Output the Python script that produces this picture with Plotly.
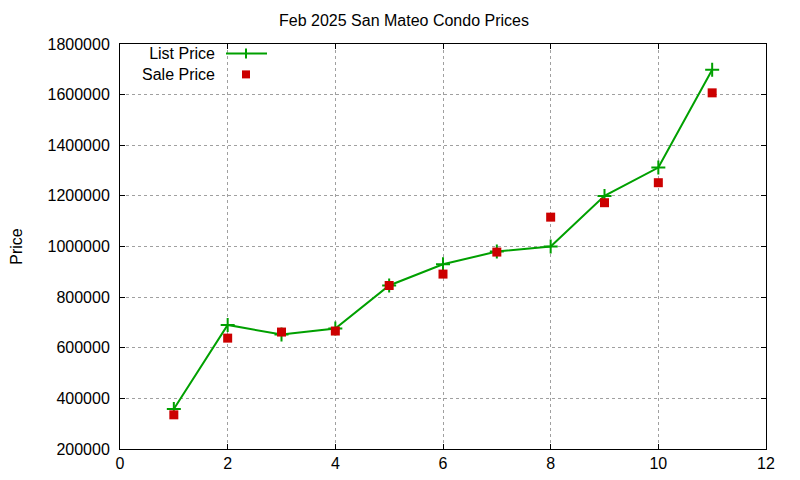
import plotly.graph_objects as go

# data
listing_no = [1, 2, 3, 4, 5, 6, 7, 8, 9, 10, 11]
list_price = [358000, 690000, 652000, 676000, 846000, 930000, 980000, 1000000, 1200000, 1312000, 1698000]
sale_price = [335000, 638000, 662000, 666000, 846000, 891000, 978000, 1116000, 1173000, 1252000, 1607000]

x_ticks = [0, 2, 4, 6, 8, 10, 12]
y_ticks = [200000, 400000, 600000, 800000, 1000000, 1200000, 1400000, 1600000, 1800000]
key_names = ['List Price', 'Sale Price']

GREEN = '#00a000'
RED = '#cc0000'
FONT = 'Liberation Sans, Arial, sans-serif'

# the page puts the figure 8px in from the top-left corner
W, H = 792, 472
L, R, T, B = 112, 34, 36, 31
PW, PH = W - L - R, H - T - B

fig = go.Figure()
fig.add_trace(go.Scatter(
    x=listing_no, y=list_price, mode='lines+markers', name=key_names[0],
    line=dict(color=GREEN, width=2),
    marker=dict(symbol='cross-thin', size=10, line=dict(color=GREEN, width=2)),
))
fig.add_trace(go.Scatter(
    x=listing_no, y=sale_price, mode='markers', name=key_names[1],
    marker=dict(symbol='square', size=9, color=RED, line=dict(width=0)),
))

# gnuplot style key: text on the left, sample on the right (positions in page px)
def px_x(p):
    return (p - 8 - L) / float(PW)

def px_y(p):
    return (H - B - (p - 8)) / float(PH)

key_mid = 64
key_gap = 10.4  # half of plotly's line spacing at 16px
row1, row2 = key_mid - key_gap, key_mid + key_gap

fig.add_annotation(xref='paper', yref='paper', x=px_x(217), y=px_y(key_mid), text='<br>'.join(key_names),
                   showarrow=False, xanchor='right', yanchor='middle', align='right',
                   font=dict(size=16, color='black', family=FONT))
fig.add_shape(type='line', xref='paper', yref='paper', x0=px_x(226), x1=px_x(267), y0=px_y(row1), y1=px_y(row1),
              line=dict(color=GREEN, width=2))
fig.add_shape(type='line', xref='paper', yref='paper', x0=px_x(246), x1=px_x(246), y0=px_y(row1 - 5), y1=px_y(row1 + 5),
              line=dict(color=GREEN, width=2))
fig.add_shape(type='rect', xref='paper', yref='paper', x0=px_x(242), x1=px_x(250), y0=px_y(row2 - 4), y1=px_y(row2 + 4),
              line=dict(width=0), fillcolor=RED)

axis_style = dict(
    showline=True, linecolor='black', linewidth=1, mirror='ticks',
    ticks='inside', ticklen=5, tickcolor='black', automargin=False,
    showgrid=True, gridcolor='#a0a0a0', griddash='dot', gridwidth=1,
    zeroline=False, tickfont=dict(size=16, color='black', family=FONT),
)

fig.update_xaxes(range=[0, 12], tickvals=x_ticks, **axis_style)
fig.update_yaxes(range=[200000, 1800000], tickvals=y_ticks, tickformat='d', ticklabelstandoff=6,
                 title=dict(text='Price', font=dict(size=16, color='black', family=FONT), standoff=29),
                 **axis_style)

fig.update_layout(
    width=W, height=H,
    margin=dict(l=L, r=R, t=T, b=B),
    paper_bgcolor='white', plot_bgcolor='white',
    showlegend=False,
    title=dict(text='Feb 2025 San Mateo Condo Prices', x=0.5, xanchor='center',
               y=1 - 12.5 / H, yanchor='middle',
               font=dict(size=16, color='black', family=FONT)),
    font=dict(family=FONT, color='black'),
)

fig.write_html('out.html')
